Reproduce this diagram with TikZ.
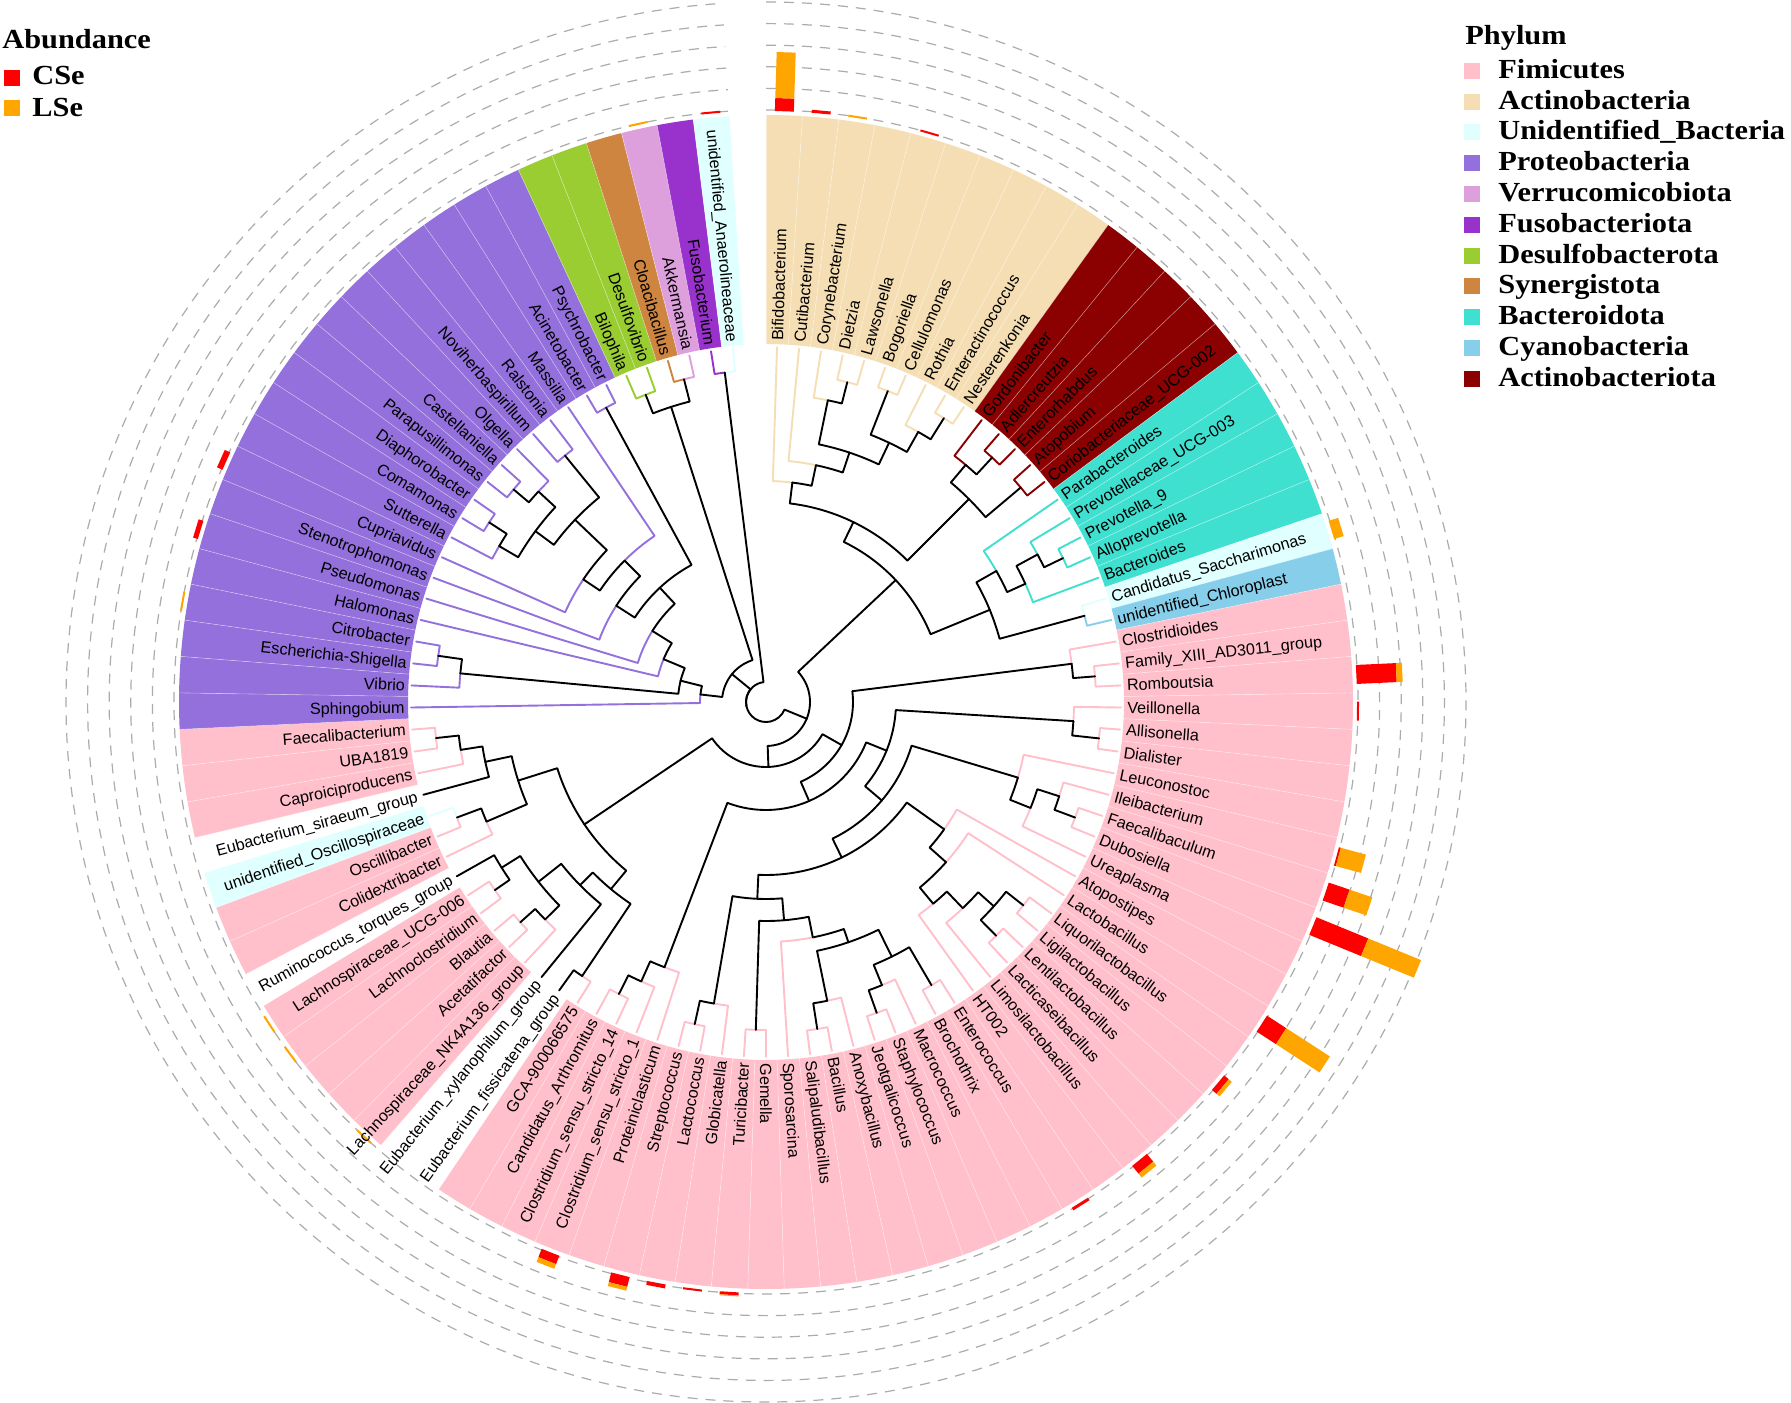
\documentclass[tikz,border=0pt]{standalone}
\usepackage{fontspec}
\setmainfont{Liberation Sans}
\newfontfamily\legfont[FakeStretch=1.1]{Liberation Serif}
\definecolor{cFirm}{HTML}{FFC0CB}
\definecolor{cAct}{HTML}{F5DEB3}
\definecolor{cUnid}{HTML}{E0FFFF}
\definecolor{cPro}{HTML}{9370DB}
\definecolor{cVer}{HTML}{DDA0DD}
\definecolor{cFus}{HTML}{9932CC}
\definecolor{cDes}{HTML}{9ACD32}
\definecolor{cSyn}{HTML}{CD853F}
\definecolor{cBac}{HTML}{40E0D0}
\definecolor{cCya}{HTML}{87CEEB}
\definecolor{cAco}{HTML}{8B0000}
\definecolor{cCSe}{HTML}{FF0000}
\definecolor{cLSe}{HTML}{FFA500}
\def\nonecol{none}
% sector of one leaf
\newcommand\LFsector[3]{%
  \def\tmpcol{#2}%
  \ifx\tmpcol\nonecol\else
    \pgfmathsetmacro\tSa{91.782178-3.564356*(#1-0.5)}%
    \pgfmathsetmacro\tSb{91.782178-3.564356*(#1+0.5)}%
    \fill[#2] (\tSa:358) arc[start angle=\tSa, end angle=\tSb, radius=358] -- (\tSb:587) arc[start angle=\tSb, end angle=\tSa, radius=587] -- cycle;
    \draw[white, opacity=.45, line width=.3pt] (\tSa:358) -- (\tSa:587);
  \fi}
% label of one leaf, and its data for the tree
\newcommand\LFlabel[3]{%
  \expandafter\def\csname ty@#1\endcsname{#1}%
  \expandafter\def\csname tr@#1\endcsname{355}%
  \def\tmpcol{#2}%
  \ifx\tmpcol\nonecol\expandafter\def\csname tc@#1\endcsname{black}%
  \else\expandafter\def\csname tc@#1\endcsname{#2}\fi
  \pgfmathsetmacro\tA{91.782178-3.564356*#1}%
  \ifdim\tA pt>-90.01pt
    \node[lbl, anchor=west, rotate=\tA] (lab#1) at (\tA:361) {#3};%
  \else
    \pgfmathsetmacro\tB{\tA+180}%
    \node[lbl, anchor=east, rotate=\tB] (lab#1) at (\tA:361) {#3};%
  \fi}
% one branch, parent -> child (ggtree elbow in polar form)
\newcommand\brn[2]{%
  \edef\tYp{\csname ty@#1\endcsname}\edef\tYc{\csname ty@#2\endcsname}%
  \pgfmathsetmacro\tPa{91.782178-3.564356*\tYp}%
  \pgfmathsetmacro\tCa{91.782178-3.564356*\tYc}%
  \edef\tPr{\csname tr@#1\endcsname}\edef\tCr{\csname tr@#2\endcsname}%
  \edef\tCc{\csname tc@#2\endcsname}%
  \draw[brline, draw=\tCc] (\tPa:\tPr) arc[start angle=\tPa, end angle=\tCa, radius=\tPr] -- (\tCa:\tCr);}
% internal node with two children
\newcommand\nd[4]{%
  \edef\tYa{\csname ty@#3\endcsname}\edef\tYb{\csname ty@#4\endcsname}%
  \pgfmathsetmacro\tYn{(\tYa+\tYb)/2}%
  \expandafter\let\csname ty@#1\endcsname\tYn
  \expandafter\def\csname tr@#1\endcsname{#2}%
  \expandafter\def\csname tc@#1\endcsname{black}%
  \brn{#1}{#3}\brn{#1}{#4}}
\newcommand\ndiii[5]{%
  \edef\tYa{\csname ty@#3\endcsname}\edef\tYb{\csname ty@#4\endcsname}\edef\tYd{\csname ty@#5\endcsname}%
  \pgfmathsetmacro\tYn{(\tYa+\tYb+\tYd)/3}%
  \expandafter\let\csname ty@#1\endcsname\tYn
  \expandafter\def\csname tr@#1\endcsname{#2}%
  \expandafter\def\csname tc@#1\endcsname{black}%
  \brn{#1}{#3}\brn{#1}{#4}\brn{#1}{#5}}
% stacked abundance bar
\newcommand\abar[3]{%
  \pgfmathsetmacro\tA{91.782178-3.564356*#1}%
  \pgfmathsetmacro\tRa{591+#2}\pgfmathsetmacro\tRb{591+#2+#3}%
  \ifdim #2pt>0pt \draw[barl, cCSe] (\tA:591) -- (\tA:\tRa);\fi
  \ifdim #3pt>0pt \draw[barl, cLSe] (\tA:\tRa) -- (\tA:\tRb);\fi}
\def\leaflist{%
\LF{1}{cAct}{Bifidobacterium}\LF{2}{cAct}{Cutibacterium}\LF{3}{cAct}{Corynebacterium}%
\LF{4}{cAct}{Dietzia}\LF{5}{cAct}{Lawsonella}\LF{6}{cAct}{Bogoriella}%
\LF{7}{cAct}{Cellulomonas}\LF{8}{cAct}{Rothia}\LF{9}{cAct}{Enteractinococcus}%
\LF{10}{cAct}{Nesterenkonia}\LF{11}{cAco}{Gordonibacter}\LF{12}{cAco}{Adlercreutzia}%
\LF{13}{cAco}{Enterorhabdus}\LF{14}{cAco}{Atopobium}\LF{15}{cAco}{Coriobacteriaceae\_UCG-002}%
\LF{16}{cBac}{Parabacteroides}\LF{17}{cBac}{Prevotellaceae\_UCG-003}\LF{18}{cBac}{Prevotella\_9}%
\LF{19}{cBac}{Alloprevotella}\LF{20}{cBac}{Bacteroides}\LF{21}{cUnid}{Candidatus\_Saccharimonas}%
\LF{22}{cCya}{unidentified\_Chloroplast}\LF{23}{cFirm}{Clostridioides}\LF{24}{cFirm}{Family\_XIII\_AD3011\_group}%
\LF{25}{cFirm}{Romboutsia}\LF{26}{cFirm}{Veillonella}\LF{27}{cFirm}{Allisonella}%
\LF{28}{cFirm}{Dialister}\LF{29}{cFirm}{Leuconostoc}\LF{30}{cFirm}{Ileibacterium}%
\LF{31}{cFirm}{Faecalibaculum}\LF{32}{cFirm}{Dubosiella}\LF{33}{cFirm}{Ureaplasma}%
\LF{34}{cFirm}{Atopostipes}\LF{35}{cFirm}{Lactobacillus}\LF{36}{cFirm}{Liquorilactobacillus}%
\LF{37}{cFirm}{Ligilactobacillus}\LF{38}{cFirm}{Lentilactobacillus}\LF{39}{cFirm}{Lacticaseibacillus}%
\LF{40}{cFirm}{Limosilactobacillus}\LF{41}{cFirm}{HT002}\LF{42}{cFirm}{Enterococcus}%
\LF{43}{cFirm}{Brochothrix}\LF{44}{cFirm}{Macrococcus}\LF{45}{cFirm}{Staphylococcus}%
\LF{46}{cFirm}{Jeotgalicoccus}\LF{47}{cFirm}{Anoxybacillus}\LF{48}{cFirm}{Bacillus}%
\LF{49}{cFirm}{Salipaludibacillus}\LF{50}{cFirm}{Sporosarcina}\LF{51}{cFirm}{Gemella}%
\LF{52}{cFirm}{Turicibacter}\LF{53}{cFirm}{Globicatella}\LF{54}{cFirm}{Lactococcus}%
\LF{55}{cFirm}{Streptococcus}\LF{56}{cFirm}{Proteiniclasticum}\LF{57}{cFirm}{Clostridium\_sensu\_stricto\_1}%
\LF{58}{cFirm}{Clostridium\_sensu\_stricto\_14}\LF{59}{cFirm}{Candidatus\_Arthromitus}\LF{60}{cFirm}{GCA-900066575}%
\LF{61}{none}{Eubacterium\_fissicatena\_group}\LF{62}{none}{Eubacterium\_xylanophilum\_group}%
\LF{63}{cFirm}{Lachnospiraceae\_NK4A136\_group}\LF{64}{cFirm}{Acetatifactor}\LF{65}{cFirm}{Blautia}%
\LF{66}{cFirm}{Lachnoclostridium}\LF{67}{cFirm}{Lachnospiraceae\_UCG-006}\LF{68}{none}{Ruminococcus\_torques\_group}%
\LF{69}{cFirm}{Colidextribacter}\LF{70}{cFirm}{Oscillibacter}\LF{71}{cUnid}{unidentified\_Oscillospiraceae}%
\LF{72}{none}{Eubacterium\_siraeum\_group}\LF{73}{cFirm}{Caproiciproducens}\LF{74}{cFirm}{UBA1819}%
\LF{75}{cFirm}{Faecalibacterium}\LF{76}{cPro}{Sphingobium}\LF{77}{cPro}{Vibrio}%
\LF{78}{cPro}{Escherichia-Shigella}\LF{79}{cPro}{Citrobacter}\LF{80}{cPro}{Halomonas}%
\LF{81}{cPro}{Pseudomonas}\LF{82}{cPro}{Stenotrophomonas}\LF{83}{cPro}{Cupriavidus}%
\LF{84}{cPro}{Sutterella}\LF{85}{cPro}{Comamonas}\LF{86}{cPro}{Diaphorobacter}%
\LF{87}{cPro}{Parapusillimonas}\LF{88}{cPro}{Castellaniella}\LF{89}{cPro}{Olgella}%
\LF{90}{cPro}{Noviherbaspirillum}\LF{91}{cPro}{Ralstonia}\LF{92}{cPro}{Massilia}%
\LF{93}{cPro}{Acinetobacter}\LF{94}{cPro}{Psychrobacter}\LF{95}{cDes}{Bilophila}%
\LF{96}{cDes}{Desulfovibrio}\LF{97}{cSyn}{Cloacibacillus}\LF{98}{cVer}{Akkermansia}%
\LF{99}{cFus}{Fusobacterium}\LF{100}{cUnid}{unidentified\_Anaerolineaceae}}
\begin{document}
\begin{tikzpicture}[x=0.5pt, y=0.5pt,
  lbl/.style={inner sep=0pt, font=\fontsize{8.1pt}{9pt}\selectfont, text height=5.8pt, text depth=0pt},
  brline/.style={line width=0.95pt, line cap=round, line join=round},
  barl/.style={line width=9.5pt},
  dcirc/.style={draw=gray!65, line width=0.6pt, dash pattern=on 5pt off 4pt},
  sq/.style={minimum size=8pt, inner sep=0pt, draw=none},
  legt/.style={inner sep=0pt, font=\legfont\bfseries\fontsize{13.8pt}{16pt}\selectfont}]
\useasboundingbox (-766,-700) rectangle (1025,702);
\fill[white] (-766,-700) rectangle (1025,702);
% sectors
\let\LF\LFsector \leaflist
% dashed rings
\foreach \rr in {592,613.6,635.2,656.8,678.4,700}{\draw[dcirc] (90:\rr) arc[start angle=90, end angle=-266.44, radius=\rr];}
% bars
\abar{1}{13}{46}\abar{2}{3}{0}\abar{3}{0}{2}\abar{5}{2}{0}\abar{21}{0}{10}
\abar{25}{40}{6}\abar{26}{2}{0}\abar{30}{2}{26}\abar{31}{22}{24}\abar{32}{56}{57}
\abar{35}{23}{52}\abar{37}{6}{4}\abar{40}{10}{5}\abar{42}{3}{0}
\abar{52}{3}{1}\abar{53}{2}{0}\abar{54}{4}{0}\abar{55}{10}{4}\abar{57}{9}{5}
\abar{63}{0}{2}\abar{66}{0}{2}\abar{67}{0}{2}\abar{79}{0}{2}\abar{81}{5}{0}\abar{83}{6}{0}
\abar{98}{0}{2}\abar{100}{2}{0}
% labels
\let\LF\LFlabel \leaflist
% ---- tree ----
% Actinobacteria
\nd{a45}{330}{4}{5}
\nd{a345}{308}{3}{a45}
\nd{a67}{334}{6}{7}
\nd{a910}{335}{9}{10}
\nd{a8910}{310}{8}{a910}
\nd{aBCR}{287}{a67}{a8910}
\nd{aN3}{263}{a345}{aBCR}
\nd{aN2}{242}{2}{aN3}
\nd{aN1}{221}{1}{aN2}
% Actinobacteriota
\nd{b1213}{333}{12}{13}
\nd{b11}{310}{11}{b1213}
\nd{b1415}{333}{14}{15}
\nd{bA4}{287}{b11}{b1415}
\nd{M1}{200}{aN1}{bA4}
% Bacteroidota and neighbours
\nd{c1819}{330}{18}{19}
\nd{c17}{309}{17}{c1819}
\nd{c20}{285}{c17}{20}
\nd{c16}{265}{16}{c20}
\nd{c2122}{330}{21}{22}
\nd{M2}{242}{c16}{c2122}
\nd{M}{178}{M1}{M2}
% Firmicutes, right and lower right
\nd{f2425}{330}{24}{25}
\nd{fCFR}{308}{23}{f2425}
\nd{f2728}{335}{27}{28}
\nd{fVAD}{308}{26}{f2728}
\nd{e3132}{330}{31}{32}
\nd{e30}{308}{30}{e3132}
\nd{e33}{285}{e30}{33}
\nd{e29}{263}{29}{e33}
\nd{k3637}{328}{36}{37}
\nd{k3839}{328}{38}{39}
\nd{kK3}{306}{k3637}{k3839}
\nd{kK4}{285}{kK3}{40}
\nd{kK5}{262}{kK4}{41}
\nd{kK6}{241}{35}{kK5}
\nd{kK7}{219}{34}{kK6}
\nd{g4243}{328}{42}{43}
\nd{g4546}{330}{45}{46}
\nd{g44}{306}{44}{g4546}
\nd{gG4}{284}{g4243}{g44}
\nd{g4849}{331}{48}{49}
\nd{g47}{305}{47}{g4849}
\nd{gG2}{254}{gG4}{g47}
\nd{gGp}{240}{gG2}{50}
\nd{h5152}{328}{51}{52}
\nd{hK}{219}{h5152}{gGp}
\nd{j5455}{330}{54}{55}
\nd{j53}{306}{53}{j5455}
\nd{hJ}{197}{hK}{j53}
\nd{yY}{173}{kK7}{hJ}
\nd{xX}{152}{e29}{yY}
\nd{xV0}{130}{fVAD}{xX}
\nd{l5859}{327}{58}{59}
\nd{l57}{306}{57}{l5859}
\nd{l56}{284}{56}{l57}
\nd{xS}{108}{xV0}{l56}
\nd{R3}{87}{fCFR}{xS}
% Firmicutes, lower left
\nd{q6061}{330}{60}{61}
\nd{q6465}{330}{64}{65}
\nd{q63}{310}{63}{q6465}
\nd{q6667}{330}{66}{67}
\nd{q68}{312}{q6667}{68}
\nd{qL5}{290}{q63}{q68}
\nd{qL6}{261}{62}{qL5}
\nd{qLb}{243}{q6061}{qL6}
\nd{u7475}{332}{74}{75}
\nd{u73}{309}{73}{u7475}
\nd{u72}{287}{72}{u73}
\nd{o7071}{330}{70}{71}
\nd{o69}{304}{69}{o7071}
\nd{uLa}{260}{o69}{u72}
\nd{L}{219}{qLb}{uLa}
\nd{R2}{65}{R3}{L}
\nd{R1}{44}{M}{R2}
% Proteobacteria
\nd{p7879}{331}{78}{79}
\nd{pVEC}{307}{77}{p7879}
\nd{p8586}{330}{85}{86}
\nd{pSCD}{309}{84}{p8586}
\nd{p8788}{330}{87}{88}
\nd{pPCO}{310}{p8788}{89}
\nd{pSP}{287}{pSCD}{pPCO}
\nd{p9091}{318}{90}{91}
\nd{pW}{264}{pSP}{p9091}
\nd{pCu}{220}{83}{pW}
\nd{pMa}{200}{pCu}{92}
\nd{pSt}{178}{82}{pMa}
\nd{p9394}{335}{93}{94}
\nd{pAp}{156}{pSt}{p9394}
\nd{pPs}{134}{81}{pAp}
\nd{pPc}{111}{80}{pPs}
\nd{pPa}{88}{pVEC}{pPc}
\nd{pPb}{66}{76}{pPa}
% small phyla
\nd{d9596}{330}{95}{96}
\nd{d9798}{333}{97}{98}
\nd{dDS}{310}{d9596}{d9798}
\nd{C2}{44}{pPb}{dDS}
\nd{C1}{332}{99}{100}
\ndiii{root}{20}{R1}{C2}{C1}
% ---- legends ----
\node[legt, anchor=base west] (lgAb) at (-764,653) {Abundance};
\node[sq, fill=cCSe] (sqC) at (-754,623.7) {};
\node[legt, anchor=base west] (lgC) at (-734,617) {CSe};
\node[sq, fill=cLSe] (sqL) at (-754,593.7) {};
\node[legt, anchor=base west] (lgL) at (-734,585.3) {LSe};
\node[legt, anchor=base west] (lgP) at (699,657) {Phylum};
\foreach \c/\t [count=\i from 0] in {cFirm/Fimicutes, cAct/Actinobacteria, cUnid/Unidentified\_Bacteria, cPro/Proteobacteria, cVer/Verrucomicobiota, cFus/Fusobacteriota, cDes/Desulfobacterota, cSyn/Synergistota, cBac/Bacteroidota, cCya/Cyanobacteria, cAco/Actinobacteriota}{
  \pgfmathsetmacro\yb{623.7-30.8*\i}
  \node[sq, fill=\c] (sqP\i) at (705.5,\yb+7.5) {};
  \node[legt, anchor=base west] (lgP\i) at (732,\yb) {\t};
}
\end{tikzpicture}
\end{document}
